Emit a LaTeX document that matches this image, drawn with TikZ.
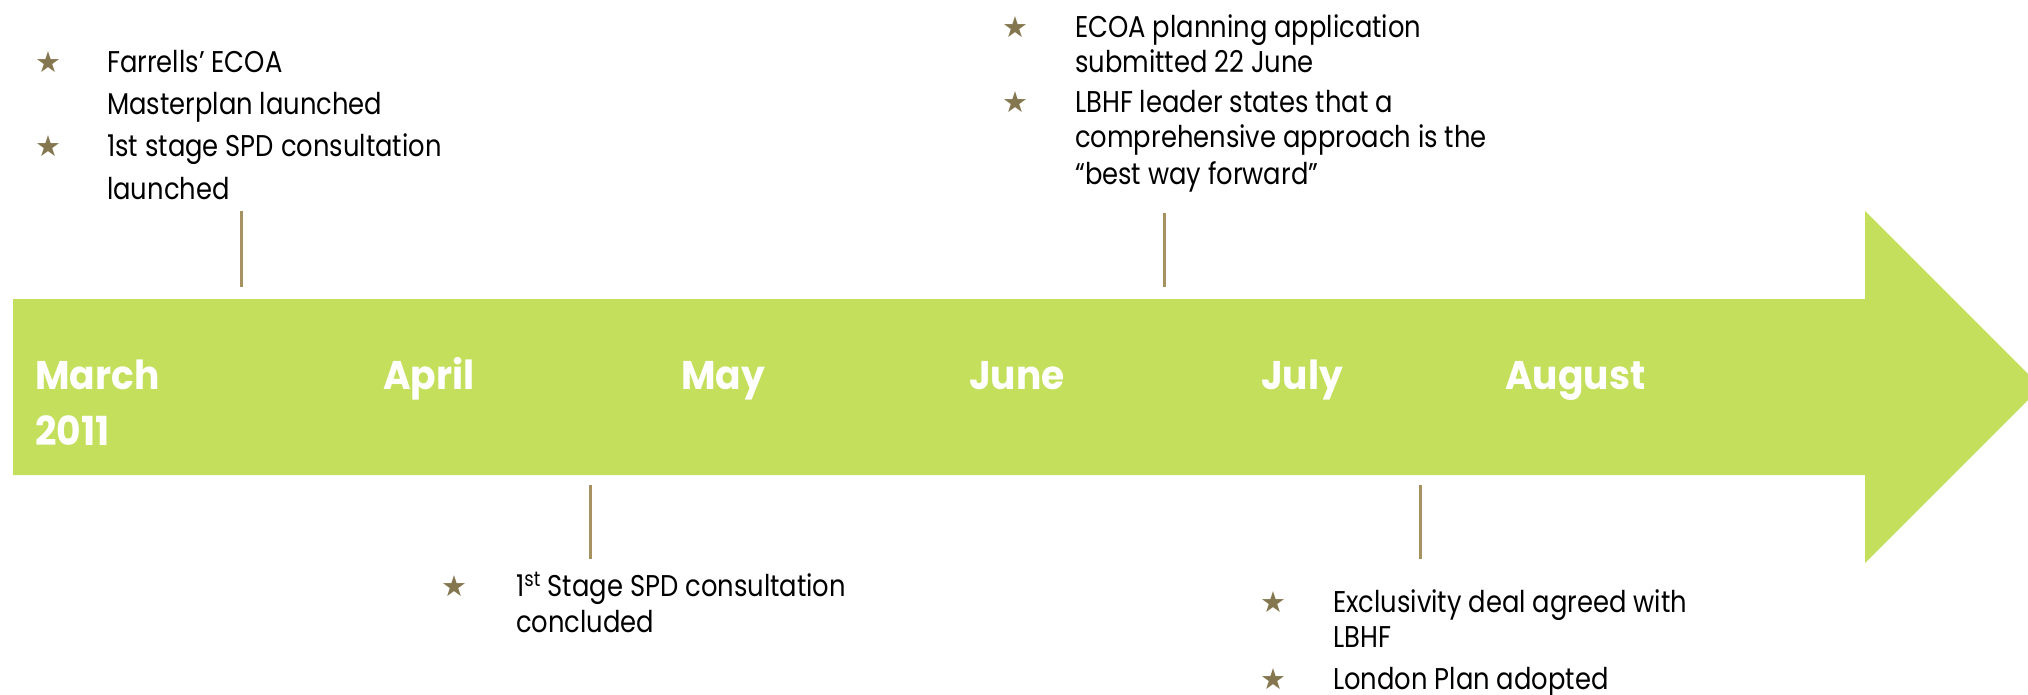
\documentclass[tikz,border=0pt]{standalone}
\usepackage{fontspec}
\setmainfont{Poppins}[FakeStretch=0.86]
\newfontfamily\monthfont{Poppins}[FakeStretch=0.94]
\newfontfamily\starfont{DejaVu Sans}
\definecolor{arrowgreen}{RGB}{195,223,92}
\definecolor{ticktan}{RGB}{165,146,96}
\definecolor{starolive}{RGB}{132,119,80}
\tikzstyle{month}=[text=white, font=\monthfont\fontsize{40}{40}\selectfont\bfseries, inner sep=0, anchor=base west]
\tikzstyle{note}=[font=\fontsize{30}{30}\selectfont, inner sep=0, anchor=base west]
\tikzstyle{bullet}=[text=starolive, font=\starfont\fontsize{29}{29}\selectfont, inner sep=0]
\tikzstyle{tick}=[draw=ticktan, line width=3pt]

\begin{document}
\begin{tikzpicture}[x=1pt, y=-1pt]
    \useasboundingbox (0,0) rectangle (2028,694);
    % the time line itself
    \fill[arrowgreen] (13,299) -- (1865,299) -- (1865,211) -- (2041,387)
        -- (1865,563) -- (1865,475) -- (13,475) -- cycle;

    \node[month] (march) at (35,389) {March};
    \node[month] (year) at (35,445) {2011};
    \node[month] (april) at (383,389) {April};
    \node[month] (may) at (681,389) {May};
    \node[month] (june) at (969,389) {June};
    \node[month] (july) at (1261,389) {July};
    \node[month] (august) at (1505,389) {August};

    % March, above the line
    \node[bullet] (M1star) at (48,62) {★};
    \node[note] (M1a) at (107,72) {Farrells’ ECOA};
    \node[note] (M1b) at (107,114) {Masterplan launched};
    \node[bullet] (M2star) at (48,146) {★};
    \node[note] (M2a) at (107,156) {1st stage SPD consultation};
    \node[note] (M2b) at (107,199) {launched};
    \coordinate (M1top) at (241,211);
    \coordinate (M1bot) at (241,287);
    \draw[tick] (M1top) -- (M1bot);

    % June, above the line
    \node[bullet] (J1star) at (1015,27) {★};
    \node[note] (J1a) at (1075,37) {ECOA planning application};
    \node[note] (J1b) at (1075,72) {submitted 22 June};
    \node[bullet] (J2star) at (1015,102) {★};
    \node[note] (J2a) at (1075,112) {LBHF leader states that a};
    \node[note] (J2b) at (1075,147) {comprehensive approach is the};
    \node[note] (J2c) at (1075,184) {“best way forward”};
    \coordinate (J1top) at (1164,213);
    \coordinate (J1bot) at (1164,287);
    \draw[tick] (J1top) -- (J1bot);

    % April, below the line
    \coordinate (A1top) at (590,485);
    \coordinate (A1bot) at (590,559);
    \draw[tick] (A1top) -- (A1bot);
    \node[bullet] (A1star) at (454,586) {★};
    \node[note] (A1a) at (516,596) {1\textsuperscript{st} Stage SPD consultation};
    \node[note] (A1b) at (516,632) {concluded};

    % July, below the line
    \coordinate (L1top) at (1420,485);
    \coordinate (L1bot) at (1420,559);
    \draw[tick] (L1top) -- (L1bot);
    \node[bullet] (L1star) at (1273,602) {★};
    \node[note] (L1a) at (1333,612) {Exclusivity deal agreed with};
    \node[note] (L1b) at (1333,647) {LBHF};
    \node[bullet] (L2star) at (1273,679) {★};
    \node[note] (L2a) at (1333,689) {London Plan adopted};
\end{tikzpicture}
\end{document}
